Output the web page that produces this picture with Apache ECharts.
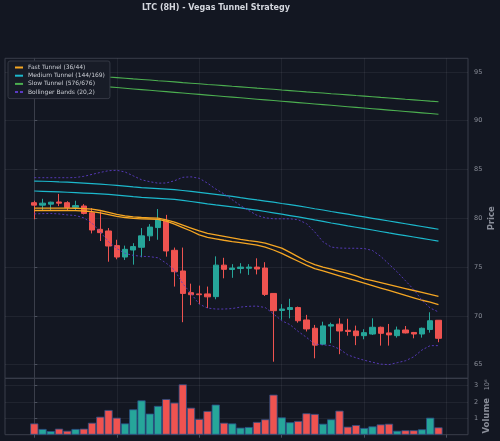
<!DOCTYPE html>
<html>
<head>
<meta charset="utf-8">
<script src="https://cdn.jsdelivr.net/npm/echarts@6/dist/echarts.min.js"></script>
<style>
  html, body { margin: 0; padding: 0; background: #131722; }
  #chart { width: 500px; height: 441px; }
</style>
</head>
<body>
<div id="chart"></div>
<script>
// candles, 8H bars, index 0..49
var opens = [81.6, 81.35, 81.45, 81.67, 81.6, 81.13, 81.26, 80.57, 78.87, 78.7,
  77.2, 76.03, 76.75, 77.03, 78.2, 79.05, 79.72, 76.72, 74.6, 72.38,
  72.25, 72.25, 71.97, 75.2, 74.75, 74.85, 74.88, 75.0, 74.9, 72.3,
  70.55, 70.65, 70.85, 69.58, 68.73, 67.1, 68.95, 69.15, 68.52, 68.45,
  67.97, 68.14, 68.83, 68.25, 67.97, 68.55, 68.3, 68.14, 68.6, 69.55];
var closes = [81.35, 81.55, 81.65, 81.55, 81.1, 81.3, 80.5, 78.8, 78.53, 77.16,
  76.03, 76.82, 77.1, 78.2, 79.1, 79.83, 76.65, 74.53, 72.3, 72.17,
  72.17, 71.95, 75.2, 74.77, 74.9, 75.0, 75.0, 74.8, 72.2, 70.53,
  70.7, 70.85, 69.5, 68.66, 67.0, 68.97, 69.1, 68.45, 68.4, 67.97,
  68.28, 68.83, 68.21, 68.05, 68.55, 68.25, 68.14, 68.73, 69.5, 67.7];
var highs = [81.8, 82.0, 81.7, 82.5, 81.75, 81.8, 81.45, 81.05, 80.7, 79.0,
  77.8, 77.2, 77.45, 79.0, 79.4, 80.95, 80.35, 77.0, 77.0, 73.3,
  73.1, 73.0, 76.1, 75.95, 75.3, 75.4, 75.3, 75.9, 75.5, 72.3,
  71.2, 71.75, 70.95, 70.1, 69.07, 69.4, 69.3, 69.75, 69.7, 69.0,
  68.63, 69.75, 68.9, 69.17, 68.9, 68.96, 68.35, 68.8, 70.37, 69.55];
var lows = [79.9, 80.8, 80.85, 81.25, 80.85, 80.85, 80.4, 78.45, 77.67, 75.55,
  75.8, 75.73, 75.25, 76.0, 77.67, 77.8, 76.07, 73.0, 69.35, 71.1,
  71.2, 70.8, 71.7, 73.85, 73.9, 74.35, 74.2, 74.25, 72.04, 65.3,
  69.6, 69.75, 69.3, 68.4, 65.65, 67.0, 67.2, 66.07, 67.97, 67.0,
  67.6, 68.04, 66.95, 66.95, 67.77, 68.2, 67.7, 67.77, 68.28, 67.3];
// volume in millions
var volumes = [0.69, 0.35, 0.22, 0.37, 0.24, 0.35, 0.37, 0.73, 1.10, 1.51,
  1.04, 0.69, 1.55, 2.10, 1.29, 1.76, 2.18, 1.96, 3.08, 1.65,
  0.96, 1.45, 1.84, 0.73, 0.69, 0.43, 0.47, 0.78, 0.94, 2.45,
  1.06, 0.76, 0.84, 1.31, 1.27, 0.67, 0.94, 1.47, 0.49, 0.59,
  0.41, 0.51, 0.63, 0.67, 0.24, 0.27, 0.27, 0.33, 1.04, 0.45];

// Vegas tunnels (two EMAs each) and bollinger bands
var fastA = [81.05, 81.05, 81.05, 81.05, 81.05, 81.03, 81.0, 80.95, 80.8, 80.6,
  80.4, 80.25, 80.15, 80.08, 80.05, 80.02, 79.85, 79.6, 79.3, 79.0,
  78.7, 78.45, 78.3, 78.15, 78.0, 77.85, 77.72, 77.6, 77.45, 77.2,
  76.95, 76.5, 76.05, 75.6, 75.25, 75.0, 74.8, 74.55, 74.35, 74.1,
  73.8, 73.6, 73.4, 73.2, 73.0, 72.8, 72.6, 72.4, 72.2, 72.0];
var fastB = [80.8, 80.8, 80.8, 80.8, 80.8, 80.78, 80.75, 80.68, 80.55, 80.38,
  80.2, 80.08, 80.0, 79.95, 79.93, 79.9, 79.7, 79.4, 79.05, 78.7,
  78.3, 78.05, 77.9, 77.75, 77.62, 77.5, 77.38, 77.25, 77.05, 76.75,
  76.4, 76.0, 75.6, 75.2, 74.85, 74.6, 74.35, 74.1, 73.85, 73.6,
  73.35, 73.1, 72.85, 72.6, 72.35, 72.1, 71.85, 71.6, 71.4, 71.15];
var mediumA = [83.82, 83.8, 83.77, 83.73, 83.7, 83.65, 83.6, 83.55, 83.5, 83.44,
  83.38, 83.3, 83.22, 83.15, 83.1, 83.05, 83.0, 82.93, 82.85, 82.75,
  82.65, 82.55, 82.45, 82.35, 82.25, 82.12, 82.0, 81.88, 81.77, 81.65,
  81.52, 81.4, 81.27, 81.13, 80.98, 80.85, 80.7, 80.56, 80.42, 80.28,
  80.14, 80.0, 79.86, 79.72, 79.58, 79.44, 79.3, 79.16, 79.02, 78.88];
var mediumB = [82.8, 82.77, 82.74, 82.71, 82.67, 82.63, 82.59, 82.55, 82.5, 82.45,
  82.38, 82.3, 82.22, 82.15, 82.1, 82.05, 82.0, 81.93, 81.83, 81.72,
  81.6, 81.48, 81.37, 81.27, 81.17, 81.06, 80.95, 80.83, 80.7, 80.56,
  80.42, 80.28, 80.14, 80.0, 79.83, 79.68, 79.52, 79.37, 79.22, 79.08,
  78.94, 78.8, 78.65, 78.5, 78.36, 78.22, 78.08, 77.94, 77.8, 77.66];
var slowA = [95.05, 94.99, 94.93, 94.86, 94.8, 94.74, 94.67, 94.61, 94.55, 94.48,
  94.42, 94.36, 94.29, 94.23, 94.17, 94.1, 94.04, 93.98, 93.91, 93.85,
  93.79, 93.72, 93.66, 93.6, 93.53, 93.47, 93.41, 93.34, 93.28, 93.22,
  93.15, 93.09, 93.03, 92.96, 92.9, 92.84, 92.77, 92.71, 92.65, 92.58,
  92.52, 92.46, 92.39, 92.33, 92.27, 92.2, 92.14, 92.08, 92.01, 91.95];
var slowB = [94.1, 94.03, 93.96, 93.89, 93.82, 93.75, 93.68, 93.61, 93.54, 93.47,
  93.4, 93.33, 93.26, 93.19, 93.12, 93.05, 92.98, 92.91, 92.84, 92.77,
  92.7, 92.63, 92.56, 92.49, 92.42, 92.35, 92.28, 92.21, 92.14, 92.07,
  92.0, 91.93, 91.86, 91.79, 91.72, 91.65, 91.58, 91.51, 91.44, 91.37,
  91.3, 91.23, 91.16, 91.09, 91.02, 90.95, 90.88, 90.81, 90.74, 90.67];
var bbUpper = [84.16, 84.16, 84.16, 84.16, 84.16, 84.18, 84.3, 84.5, 84.7, 84.88,
  84.92, 84.75, 84.35, 83.95, 83.75, 83.6, 83.62, 83.85, 84.2, 84.25,
  84.1, 83.6, 83.0, 82.5, 81.9, 81.3, 80.8, 80.3, 80.05, 79.95,
  79.95, 79.95, 79.85, 79.45, 78.6, 77.6, 77.05, 76.95, 76.93, 76.93,
  76.9, 76.7, 76.1, 75.3, 74.5, 73.6, 72.7, 71.6, 70.8, 70.4];
var bbLower = [80.45, 80.48, 80.5, 80.45, 80.35, 80.28, 80.05, 79.5, 78.6, 77.6,
  76.9, 76.4, 76.2, 76.1, 76.07, 75.95, 75.4, 74.7, 73.3, 72.3,
  71.2, 70.8, 70.7, 70.7, 70.75, 70.9, 70.98, 71.0, 70.85, 70.2,
  69.5, 69.1, 68.4, 67.8, 67.1, 67.03, 66.95, 66.6, 66.0, 65.7,
  65.45, 65.25, 65.05, 65.0, 65.2, 65.4, 65.8, 66.5, 66.95, 66.95];

var xTicks = [0, 10, 20, 30, 40, 50];
var priceTicks = [65, 70, 75, 80, 85, 90, 95];
var volTicks = [1, 2, 3];

var UP = '#26a69a', DOWN = '#ef5350';
var gridColor = 'rgba(255,255,255,0.06)';
var frameColor = '#3a3e4a';
var labelColor = '#8a8e99';

function pairs(arr) {
  return arr.map(function (v, i) { return [i, v]; });
}

var candleData = opens.map(function (o, i) {
  return [i, o, closes[i], lows[i], highs[i]];
});
var volData = volumes.map(function (v, i) {
  return {
    value: [i, v],
    itemStyle: { color: closes[i] >= opens[i] ? UP : DOWN }
  };
});

function tunnel(name, data, color, width) {
  return {
    name: name, type: 'line', xAxisIndex: 0, yAxisIndex: 0,
    data: pairs(data), showSymbol: false, symbol: 'none',
    lineStyle: { color: color, width: width },
    itemStyle: { color: color },
    z: 3
  };
}
function band(data) {
  return {
    name: 'Bollinger Bands (20,2)', type: 'line', xAxisIndex: 0, yAxisIndex: 0,
    data: pairs(data), showSymbol: false, symbol: 'none',
    lineStyle: { color: '#5b3cc4', width: 1, type: [2, 2], opacity: 0.9 },
    itemStyle: { color: '#5b3cc4' },
    z: 3
  };
}

var bar = 'path://M0,0h8v2h-8z';
var dash = 'path://M0,0h3v2h-3z M5,0h3v2h-3z';

var chart = echarts.init(document.getElementById('chart'));
chart.setOption({
  backgroundColor: '#131722',
  animation: false,
  textStyle: { fontFamily: 'DejaVu Sans' },
  title: {
    text: 'LTC (8H) - Vegas Tunnel Strategy',
    left: 142, top: 4, padding: 0,
    textStyle: { color: '#d4d7de', fontSize: 8, fontWeight: 'bold', fontFamily: 'DejaVu Sans' }
  },
  legend: {
    left: 8, top: 61,
    orient: 'vertical',
    padding: [3, 5, 3, 7],
    itemWidth: 8, itemHeight: 2, itemGap: 1.2,
    backgroundColor: '#181c27',
    borderColor: '#353945', borderWidth: 1, borderRadius: 2,
    textStyle: { color: '#c9ccd3', fontSize: 6, lineHeight: 7 },
    data: [
      { name: 'Fast Tunnel (36/44)', icon: bar },
      { name: 'Medium Tunnel (144/169)', icon: bar },
      { name: 'Slow Tunnel (576/676)', icon: bar },
      { name: 'Bollinger Bands (20,2)', icon: dash }
    ]
  },
  grid: [
    { left: 5, right: 32, top: 58.3, height: 320, show: true, borderColor: frameColor, borderWidth: 1, backgroundColor: 'transparent', outerBoundsMode: 'none', containLabel: false },
    { left: 5, right: 32, top: 378.3, height: 56.4, show: true, borderColor: frameColor, borderWidth: 1, backgroundColor: 'transparent', outerBoundsMode: 'none', containLabel: false }
  ],
  xAxis: [
    {
      type: 'value', gridIndex: 0, min: -3.55, max: 52.58,
      axisLine: { show: false },
      axisTick: { show: false, customValues: xTicks },
      axisLabel: { show: false },
      splitLine: { show: true, lineStyle: { color: gridColor, width: 1 } }
    },
    {
      type: 'value', gridIndex: 1, min: -3.55, max: 52.58,
      axisLine: { show: false },
      axisTick: { show: true, length: 3, customValues: xTicks, lineStyle: { color: '#4a4f5c' } },
      axisLabel: { show: false },
      splitLine: { show: true, lineStyle: { color: gridColor, width: 1 } }
    }
  ],
  yAxis: [
    {
      type: 'value', gridIndex: 0, position: 'right', min: 63.6, max: 96.4,
      axisLine: { show: true, lineStyle: { color: frameColor } },
      axisTick: { show: true, length: 3, customValues: priceTicks, lineStyle: { color: '#4a4f5c' } },
      axisLabel: { customValues: priceTicks, color: labelColor, fontSize: 6.5, margin: 6 },
      splitLine: { show: true, lineStyle: { color: gridColor, width: 1 } },
      name: 'Price', nameLocation: 'middle', nameRotate: 90, nameGap: 19, nameMoveOverlap: false,
      nameTextStyle: { color: '#8a8e99', fontSize: 8.5, fontWeight: 'bold' }
    },
    {
      type: 'value', gridIndex: 1, position: 'right', min: 0, max: 3.45,
      axisLine: { show: true, lineStyle: { color: frameColor } },
      axisTick: { show: true, length: 3, customValues: volTicks, lineStyle: { color: '#4a4f5c' } },
      axisLabel: { customValues: volTicks, color: labelColor, fontSize: 6.5, margin: 6 },
      splitLine: { show: true, lineStyle: { color: gridColor, width: 1 } },
      name: '{v|Volume}  {e|10⁶}', nameLocation: 'middle', nameRotate: 90, nameGap: 13, nameMoveOverlap: false,
      nameTextStyle: {
        rich: {
          v: { color: '#8a8e99', fontSize: 8.5, fontWeight: 'bold' },
          e: { color: '#8a8e99', fontSize: 6.5 }
        }
      }
    }
  ],
  series: [
    {
      name: 'LTC', type: 'candlestick', xAxisIndex: 0, yAxisIndex: 0,
      data: candleData,
      encode: { x: 0, y: [1, 2, 3, 4] },
      barWidth: 5.7,
      itemStyle: { color: UP, color0: DOWN, borderColor: UP, borderColor0: DOWN, borderWidth: 1 },
      z: 2
    },
    tunnel('Fast Tunnel (36/44)', fastA, '#f5a623', 1.3),
    tunnel('Fast Tunnel (36/44)', fastB, '#f5a623', 1.3),
    tunnel('Medium Tunnel (144/169)', mediumA, '#1cb8cc', 1.2),
    tunnel('Medium Tunnel (144/169)', mediumB, '#1cb8cc', 1.2),
    tunnel('Slow Tunnel (576/676)', slowA, '#4caf50', 1.1),
    tunnel('Slow Tunnel (576/676)', slowB, '#4caf50', 1.1),
    band(bbUpper),
    band(bbLower),
    {
      name: 'Volume', type: 'bar', xAxisIndex: 1, yAxisIndex: 1,
      data: volData,
      barWidth: 8.2,
      itemStyle: { borderColor: '#2b4f86', borderWidth: 0.8 }
    }
  ]
});
</script>
</body>
</html>
